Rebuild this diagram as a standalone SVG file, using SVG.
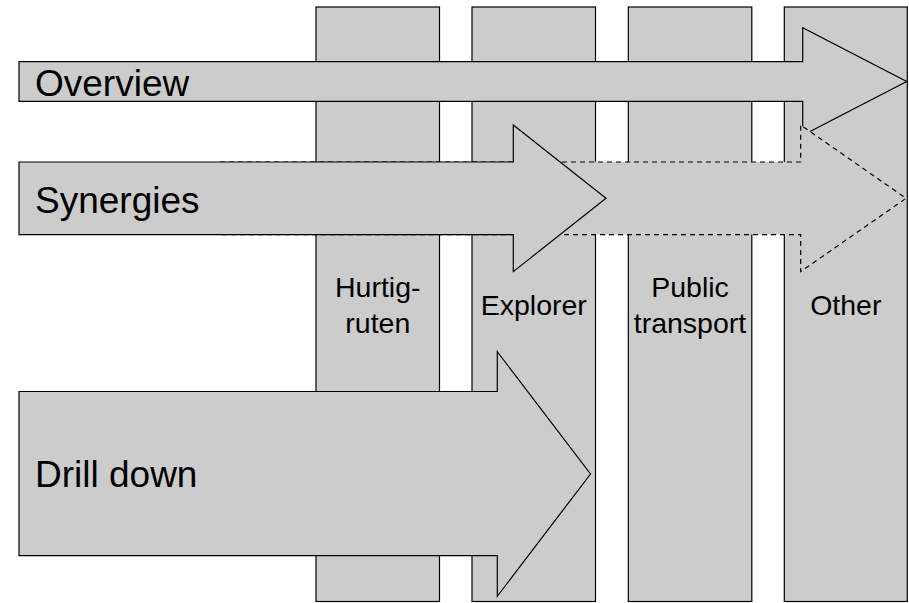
<svg xmlns="http://www.w3.org/2000/svg" width="909" height="603" viewBox="0 0 909 603">
<style>
.col{fill:#cccccc;stroke:#000;stroke-width:1.2}
.arr{fill:#cccccc;stroke:#000;stroke-width:1.2;stroke-linejoin:miter}
.dash{fill:#cccccc;stroke:#000;stroke-width:1.2;stroke-dasharray:5,4}
.big{font-family:"Liberation Sans",Arial,sans-serif;font-size:37px;fill:#000}
.lbl{font-family:"Liberation Sans",Arial,sans-serif;font-size:28.5px;fill:#000;text-anchor:middle}
</style>
<rect width="909" height="603" fill="#fff"/>
<g id="col-hurtigruten">
<rect class="col" x="316" y="7" width="123.5" height="594.5"/>
<text class="lbl" x="377.8" y="296.7">Hurtig-</text>
<text class="lbl" x="377.8" y="333.3">ruten</text>
</g>
<g id="col-explorer">
<rect class="col" x="472" y="7" width="123.5" height="594.5"/>
<text class="lbl" x="533.8" y="315">Explorer</text>
</g>
<g id="col-public">
<rect class="col" x="628.3" y="7" width="123.5" height="594.5"/>
<text class="lbl" x="690" y="296.7">Public</text>
<text class="lbl" x="690" y="333.3">transport</text>
</g>
<g id="col-other">
<rect class="col" x="784.3" y="7" width="123" height="594.5"/>
<text class="lbl" x="845.8" y="315">Other</text>
</g>
<g id="connectors">
<g id="arrow-overview">
<polygon class="arr" points="19,61.7 802.7,61.7 802.7,27.7 906.7,81.5 802.7,135.3 802.7,101.3 19,101.3"/>
<text class="big" x="35" y="96">Overview</text>
</g>
<g id="arrow-synergies-ext">
<polygon class="dash" points="220,162 800.7,162 800.7,125 906,198.3 800.7,271.6 800.7,234.6 220,234.6"/>
</g>
<g id="arrow-synergies">
<polygon class="arr" points="19,162 513.3,162 513.3,125 606,198.3 513.3,271.6 513.3,234.6 19,234.6"/>
<text class="big" x="35" y="212.5">Synergies</text>
</g>
<g id="arrow-drilldown">
<polygon class="arr" points="19,391.5 497.3,391.5 497.3,351.7 590.5,474 497.3,596.3 497.3,555.7 19,555.7"/>
<text class="big" x="35" y="487">Drill down</text>
</g>
</g>
</svg>
